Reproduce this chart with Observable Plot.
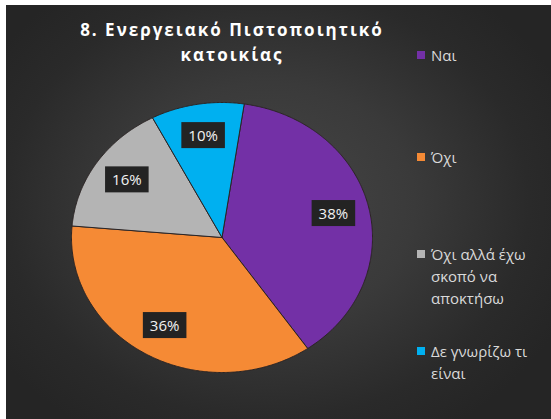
<!DOCTYPE html>
<html><head><meta charset="utf-8">
<script src="https://cdn.jsdelivr.net/npm/d3@7"></script>
<script src="https://cdn.jsdelivr.net/npm/@observablehq/plot@0.6"></script>
<style>
html,body{margin:0;padding:0;background:#fff;width:551px;height:419px;overflow:hidden;}
#frame{position:absolute;left:6px;top:5px;width:545px;height:414px;
  background: radial-gradient(ellipse 60% 65% at 48% 48%, #474747 0%, #3a3a3a 45%, #2a2a2a 80%, #252525 100%);}
#chart{position:absolute;left:0;top:0;}
#title{position:absolute;left:32px;width:400px;top:17px;text-align:center;color:#fff;
  font-family:"Open Sans",sans-serif;font-weight:700;font-size:17px;line-height:25px;letter-spacing:2px;}
.leg{position:absolute;left:417px;width:134px;font-family:"Open Sans",sans-serif;font-size:15px;line-height:22px;color:#d9d9d9;padding-left:14px;box-sizing:border-box;}
.leg .sw{position:absolute;left:0;top:7px;width:8px;height:8px;}
</style>
</head><body>
<div id="frame"></div>
<div id="chart"></div>
<div id="title"></div>
<div id="legend"></div>
<script>
const titleLines = ["8. Ενεργειακό Πιστοποιητικό", "κατοικίας"];
const categories = ["Ναι", "Όχι", "Όχι αλλά έχω σκοπό να αποκτήσω", "Δε γνωρίζω τι είναι"];
const percents = [38, 36, 16, 10];
const labels = ["38%", "36%", "16%", "10%"];
const colors = ["#7330a6", "#f58a35", "#b4b4b4", "#00b0f0"];

// pie geometry (angles clockwise from 12 o'clock)
const startDeg = 8.5;
const arcs = d3.pie().sort(null)
  .startAngle(startDeg * Math.PI / 180)
  .endAngle((startDeg + 360) * Math.PI / 180)(percents);

const pts = [];
arcs.forEach((s, i) => {
  const k = categories[i];
  pts.push({k, x: 0, y: 0});
  const n = Math.max(2, Math.ceil((s.endAngle - s.startAngle) / (Math.PI / 360)));
  for (let j = 0; j <= n; j++) {
    const a = s.startAngle + (s.endAngle - s.startAngle) * j / n;
    pts.push({k, x: Math.sin(a), y: Math.cos(a)});
  }
  pts.push({k, x: 0, y: 0});
});
const labelR = 0.76;
const lab = arcs.map((s, i) => {
  const a = (s.startAngle + s.endAngle) / 2;
  return {x: labelR * Math.sin(a), y: labelR * Math.cos(a), t: labels[i]};
});

const chart = Plot.plot({
  width: 551, height: 419, margin: 0,
  x: {domain: [-1, 1], range: [71, 372], axis: null},
  y: {domain: [-1, 1], range: [372, 102], axis: null},
  color: {domain: categories, range: colors},
  style: {background: "transparent", overflow: "visible"},
  marks: [
    Plot.line(pts, {x: "x", y: "y", z: "k", fill: "k", stroke: "#2b2424", strokeWidth: 1, strokeLinejoin: "miter"}),
    Plot.text(lab, {x: "x", y: "y", text: "t", fill: "#f2f2f2", fontSize: 15, fontFamily: "Open Sans, sans-serif", className: "lbl"})
  ]
});
document.getElementById("chart").appendChild(chart);

// dark boxes behind the data labels
document.querySelectorAll("g.lbl text").forEach(t => {
  const b = t.getBBox();
  const r = document.createElementNS("http://www.w3.org/2000/svg", "rect");
  r.setAttribute("x", b.x - 7); r.setAttribute("y", b.y - 3);
  r.setAttribute("width", b.width + 14); r.setAttribute("height", b.height + 6);
  r.setAttribute("fill", "#232323");
  t.parentNode.insertBefore(r, t);
  if (t.getAttribute("transform")) r.setAttribute("transform", t.getAttribute("transform"));
});

document.getElementById("title").innerHTML = titleLines.join("<br>");

// legend
const legTops = [44, 146, 243, 340];
const legend = document.getElementById("legend");
categories.forEach((c, i) => {
  const d = document.createElement("div");
  d.className = "leg";
  d.style.top = legTops[i] + "px";
  d.innerHTML = `<span class="sw" style="background:${colors[i]}"></span>${c}`;
  legend.appendChild(d);
});
</script>
</body></html>
